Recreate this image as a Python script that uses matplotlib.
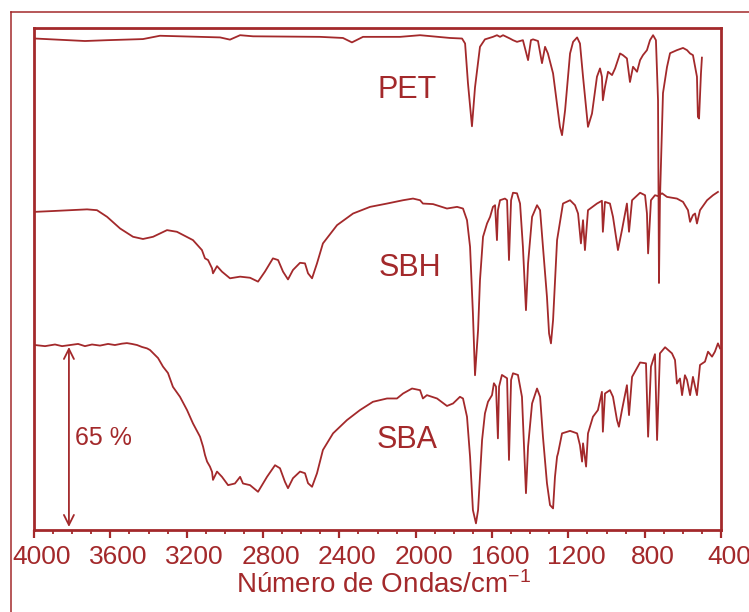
import matplotlib
matplotlib.use("Agg")
import matplotlib.pyplot as plt
from matplotlib.lines import Line2D
from matplotlib.ticker import MultipleLocator
from matplotlib.transforms import ScaledTranslation

plt.rcParams["font.family"] = ["Liberation Sans", "DejaVu Sans"]
plt.rcParams["mathtext.fontset"] = "custom"
plt.rcParams["mathtext.rm"] = "Liberation Sans"
plt.rcParams["mathtext.it"] = "Liberation Sans"

RED = "#a3292b"

# FTIR spectra (stacked), wavenumber in cm-1 and transmittance in % on a shared offset scale
pet_wn = [3995, 3733, 3617, 3429, 3340, 3025, 2973, 2920, 2852, 2501, 2381, 2334, 2276,
          2082, 1977, 1820, 1757, 1741, 1726, 1705, 1689, 1663, 1637, 1595, 1574, 1558,
          1542, 1506, 1490, 1469, 1438, 1411, 1396, 1385, 1359, 1338, 1322, 1307, 1280,
          1244, 1233, 1217, 1191, 1175, 1154, 1139, 1123, 1097, 1076, 1050, 1034, 1024,
          1019, 1008, 992, 971, 955, 929, 914, 893, 877, 861, 840, 824, 809, 788, 772,
          756, 741, 730, 725, 720, 704, 683, 667, 631, 599, 578, 562, 547, 526, 521,
          515, 505, 500]
pet_t = [177.5, 176.6, 176.9, 177.3, 178.5, 177.9, 177.1, 178.7, 178.3, 178.1, 177.7, 176.1, 178.1,
         178.1, 178.7, 177.7, 177.5, 175.7, 161.4, 145.8, 159.9, 174.5, 177.2, 178.1, 178.7, 178.1,
         178.7, 177.5, 176.9, 176.3, 176.9, 169.7, 176.9, 177.2, 176.6, 168.6, 174.5, 172.1, 164.9,
         145.6, 142.6, 151.6, 172.1, 176.3, 177.9, 175.7, 163.7, 145.6, 150.4, 163.7, 166.7, 163.7,
         155.2, 160.0, 165.5, 164.3, 166.7, 172.1, 171.5, 170.3, 161.8, 167.3, 165.5, 169.7, 171.5,
         173.3, 176.9, 178.7, 176.9, 155.2, 89.2, 119.1, 157.8, 167.2, 172.2, 173.3, 174.1, 173.3,
         172.1, 171.5, 163.7, 149.2, 148.6, 164.9, 170.6]

sbh_wn = [3995, 3900, 3722, 3670, 3617, 3549, 3481, 3429, 3376, 3303, 3251, 3167, 3120,
          3104, 3088, 3067, 3062, 3041, 3015, 2973, 2920, 2868, 2826, 2790, 2748, 2721,
          2695, 2669, 2643, 2606, 2580, 2564, 2543, 2517, 2486, 2412, 2328, 2239, 2150,
          2066, 2014, 1977, 1962, 1909, 1836, 1783, 1752, 1731, 1715, 1700, 1689, 1673,
          1663, 1647, 1626, 1610, 1595, 1584, 1574, 1569, 1558, 1532, 1521, 1511, 1500,
          1490, 1469, 1453, 1438, 1422, 1411, 1390, 1364, 1348, 1333, 1312, 1301, 1291,
          1280, 1259, 1228, 1191, 1165, 1149, 1134, 1123, 1113, 1097, 1050, 1024, 1019,
          1008, 982, 966, 945, 940, 919, 893, 882, 866, 824, 798, 788, 782, 767, 746,
          730, 709, 683, 631, 599, 573, 562, 547, 536, 526, 510, 473, 442, 416]
sbh_t = [114.9, 115.2, 115.8, 115.5, 113.1, 108.9, 105.9, 105.1, 105.9, 108.3, 107.7, 104.7, 101.1,
         98.1, 97.5, 94.5, 92.7, 95.3, 93.3, 90.9, 91.5, 91.1, 89.7, 93.3, 98.1, 97.5,
         93.3, 90.5, 93.9, 96.5, 96.3, 92.7, 90.9, 96.3, 103.5, 110.1, 114.3, 116.7, 117.9,
         119.1, 119.7, 119.1, 117.9, 117.7, 116.1, 116.7, 116.1, 111.9, 102.3, 78.2, 55.9, 72.2,
         90.2, 105.9, 110.7, 113.1, 116.7, 117.3, 104.7, 115.5, 119.1, 119.7, 119.1, 97.5, 119.1,
         121.8, 121.6, 117.9, 102.3, 79.4, 96.3, 113.1, 117.3, 115.5, 102.3, 84.2, 71.0, 67.4,
         75.8, 104.7, 117.9, 119.1, 117.3, 114.3, 103.5, 111.9, 101.1, 115.5, 117.9, 118.9, 107.7,
         118.5, 117.9, 113.1, 103.5, 101.1, 108.3, 117.9, 107.7, 119.1, 121.8, 120.9, 114.3, 99.9,
         119.1, 120.9, 120.6, 121.6, 120.3, 119.7, 118.5, 115.5, 111.3, 113.7, 114.3, 110.7, 115.5,
         119.1, 120.9, 122.1]

sba_wn = [3995, 3942, 3890, 3853, 3811, 3769, 3733, 3696, 3654, 3612, 3576, 3539, 3513,
          3487, 3460, 3434, 3408, 3392, 3376, 3350, 3324, 3298, 3272, 3235, 3198, 3167,
          3130, 3114, 3104, 3093, 3078, 3067, 3062, 3041, 3015, 2983, 2947, 2920, 2905,
          2868, 2826, 2779, 2737, 2711, 2685, 2669, 2643, 2606, 2580, 2564, 2543, 2517,
          2486, 2433, 2360, 2292, 2224, 2150, 2098, 2066, 2019, 1977, 1962, 1941, 1888,
          1836, 1804, 1768, 1752, 1731, 1715, 1700, 1684, 1673, 1652, 1637, 1621, 1600,
          1590, 1579, 1569, 1563, 1548, 1521, 1511, 1500, 1490, 1464, 1443, 1432, 1422,
          1411, 1390, 1364, 1348, 1333, 1312, 1296, 1280, 1270, 1259, 1254, 1233, 1191,
          1154, 1139, 1128, 1123, 1107, 1097, 1071, 1045, 1024, 1019, 1008, 982, 966,
          945, 935, 919, 893, 882, 866, 824, 793, 782, 767, 746, 735, 720, 693, 657,
          641, 631, 615, 604, 589, 578, 562, 547, 536, 526, 510, 484, 468, 447, 432,
          416, 405]
sba_t = [66.8, 66.4, 67.0, 66.4, 66.8, 67.2, 66.4, 67.0, 66.6, 67.2, 66.8, 67.3, 67.5,
         67.2, 66.8, 66.1, 65.6, 65.0, 63.9, 62.1, 59.0, 56.7, 51.7, 48.1, 43.3, 38.5,
         33.7, 30.1, 27.1, 24.7, 22.9, 21.0, 18.1, 21.1, 19.2, 16.2, 16.8, 19.2, 16.8,
         16.2, 13.8, 19.2, 23.4, 22.3, 17.4, 15.1, 18.7, 21.1, 20.5, 16.9, 15.6, 20.5,
         28.9, 34.9, 39.7, 43.3, 46.3, 47.5, 47.5, 49.3, 51.1, 50.5, 47.5, 48.7, 47.5,
         44.8, 45.7, 48.1, 47.5, 40.9, 26.5, 7.2, 2.4, 7.2, 32.5, 42.1, 46.3, 48.7,
         53.0, 51.8, 33.1, 51.8, 56.0, 54.8, 25.3, 54.2, 56.6, 56.0, 48.1, 30.1, 13.3,
         30.1, 45.7, 51.1, 48.1, 33.7, 16.9, 9.0, 7.8, 19.2, 26.5, 27.7, 34.9, 35.8,
         34.9, 30.6, 24.7, 31.3, 22.9, 34.9, 40.9, 43.3, 49.9, 35.5, 49.3, 50.5, 48.1,
         39.7, 37.3, 43.3, 52.3, 41.5, 55.3, 60.5, 60.2, 33.7, 59.0, 63.5, 32.5, 63.8, 66.0, 63.8,
         61.4, 52.9, 54.7, 48.7, 55.9, 54.2, 48.7, 55.3, 51.8, 48.7, 59.6, 60.8, 64.4, 62.6, 64.4,
         67.4, 65.6]

labels = ["PET", "SBH", "SBA"]
label_wn = [2045, 2030, 2045]
label_t = [158.8, 94.6, 32.5]

scale_low, scale_high = 1.1, 66.1
scale_wn = 3817
scale_text = "65 %"

xticks = [4000, 3600, 3200, 2800, 2400, 2000, 1600, 1200, 800, 400]

fig = plt.figure(figsize=(7.49, 6.12), dpi=100)
ax = fig.add_axes([34 / 749, 1 - 530 / 612, 687 / 749, 502 / 612])

for wn, t in [(pet_wn, pet_t), (sbh_wn, sbh_t), (sba_wn, sba_t)]:
    ax.plot(wn, t, color=RED, lw=1.3, solid_joinstyle="round")

for name, x, y in zip(labels, label_wn, label_t):
    ax.text(x, y, name, color=RED, fontsize=22, ha="center", va="center")

ax.annotate("", xy=(scale_wn, scale_low), xytext=(scale_wn, scale_high),
            arrowprops=dict(arrowstyle="<->", color=RED, lw=1.3, mutation_scale=18,
                            shrinkA=0, shrinkB=0))
ax.text(3785, 33.4, scale_text, color=RED, fontsize=18, ha="left", va="center")

ax.set_xlim(4000, 400)
ax.set_ylim(0, 181.3)
ax.set_xticks(xticks)
ax.xaxis.set_minor_locator(MultipleLocator(100))
ax.set_yticks([])
ax.tick_params(axis="x", which="major", direction="out", length=5.5, width=1.6,
               color=RED, labelcolor=RED, labelsize=19, pad=5)
ax.tick_params(axis="x", which="minor", direction="out", length=3.2, width=1.3, color=RED)
shift = ScaledTranslation(8 / 100, 0, fig.dpi_scale_trans)
for lab in ax.get_xticklabels():
    lab.set_transform(lab.get_transform() + shift)

for sp in ax.spines.values():
    sp.set_color(RED)
    sp.set_linewidth(2.0)

ax.set_xlabel("Número de Ondas/cm$^{-1}$", color=RED, fontsize=20, labelpad=2)
ax.xaxis.label.set_transform(ax.xaxis.label.get_transform() + ScaledTranslation(6 / 100, 0, fig.dpi_scale_trans))

# outer border lines of the figure panel
fig.add_artist(Line2D([11 / 749, 1], [1 - 12 / 612, 1 - 12 / 612], color=RED, lw=1.1,
                      transform=fig.transFigure))
fig.add_artist(Line2D([11 / 749, 11 / 749], [0, 1 - 12 / 612], color=RED, lw=1.1,
                      transform=fig.transFigure))

fig.savefig("out.png", dpi=100, facecolor="white")
